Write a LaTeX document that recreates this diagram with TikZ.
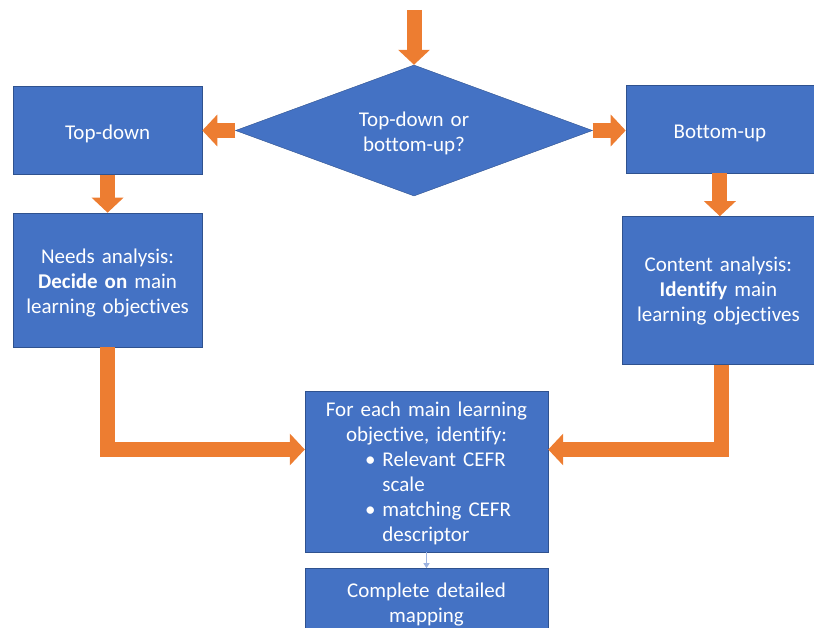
\documentclass[tikz,border=0pt]{standalone}
\usepackage{fontspec}
\setmainfont{Carlito}[Ligatures=NoCommon]
\usetikzlibrary{arrows.meta,positioning,shapes.geometric}
\definecolor{boxblue}{HTML}{4472C4}
\definecolor{edgeblue}{HTML}{2F528F}
\definecolor{pilorange}{HTML}{ED7D31}
\definecolor{thinblue}{HTML}{9DB3E0}
\tikzset{
    %Define height of the first text line
    boxstrut/.store in=\boxstrut,
    boxstrut=21.75pt,
    %Define style for boxes
    plain/.style={
           rectangle,
           fill=boxblue,
           draw=edgeblue, thin,
           text=white,
           inner sep=0pt,
           align=center,
           execute at begin node={\rule{0pt}{\boxstrut}},
           font=\fontsize{21}{25}\selectfont},
    %Define box size (width, height)
    boxsize/.style 2 args={
           minimum width=#1,
           text width=#1,
           minimum height=#2},
    %Define style for the question
    choice/.style={
           diamond,
           aspect=2.7,
           fill=boxblue,
           draw=edgeblue, thin,
           text=white,
           inner sep=0pt,
           align=center,
           text width=120pt,
           execute at begin node={\rule{0pt}{19.75pt}},
           minimum width=357pt,
           minimum height=131pt,
           font=\fontsize{21}{25}\selectfont},
    % Define block arrow style
    pil/.style={
           -{Triangle[width=31pt,length=15pt]},
           draw=pilorange,
           line width=15pt},
    % Define thin arrow style
    thinpil/.style={
           -{Triangle[width=6pt,length=5pt]},
           draw=thinblue,
           line width=1pt}
}

\begin{document}
\begin{tikzpicture}[x=1pt, y=1pt]
        \useasboundingbox (0,0) rectangle (814,-628);
        %nodes

        % question node
        \node[choice] at (414,-130.5)
        (question)
        {Top-down or\\ bottom-up?}
        ;

        % start of the flow
        \coordinate (start) at (414,-10);

        % top-down node
        \node[plain, boxsize={189pt}{88pt},
        left=33pt of question]
        (topdown)
        {Top-down}
        ;

        % bottom-up node
        \node[plain, boxsize={188pt}{88pt},
        right=33pt of question, yshift=1.5pt]
        (bottomup)
        {Bottom-up}
        ;

        % needs analysis node
        \node[plain, boxsize={189pt}{134pt},
        below=38pt of topdown]
        (needs)
        {Needs analysis:\\ \textbf{Decide on} main\\ learning objectives}
        ;

        % content analysis node
        \node[plain, boxsize={193pt}{148pt}, boxstrut=15.75pt,
        below=43pt of bottomup, xshift=-1.5pt]
        (content)
        {Content analysis:\\ \textbf{Identify} main\\ learning objectives}
        ;

        % CEFR node
        \node[plain, boxsize={243pt}{161pt}] at (426.5,-471.5)
        (cefr)
        {For each main learning\\ objective, identify:\\
        \makebox[243pt][l]{\hspace*{60pt}\begin{tabular}[t]{@{}l@{\hspace{7pt}}l@{}}
        \textbullet & Relevant CEFR\\
                    & scale\\
        \textbullet & matching CEFR\\
                    & descriptor
        \end{tabular}}}
        ;

        % mapping node
        \node[plain, boxsize={243pt}{66pt},
        below=16pt of cefr]
        (mapping)
        {Complete detailed\\ mapping}
        ;

        % start and question
        \draw[pil]
        (start) -- (question)
        ;

        % question and top-down
        \draw[pil]
        (question) -- (topdown)
        ;

        % question and bottom-up
        \draw[pil]
        (question.east) -- (bottomup.west |- question.east)
        ;

        % top-down and needs analysis
        \draw[pil]
        (topdown) -- (needs)
        ;

        % bottom-up and content analysis
        \draw[pil]
        (bottomup.south) -- (bottomup.south |- content.north)
        ;

        % needs analysis and CEFR
        \draw[pil]
        (needs.south) |- ([yshift=22pt]cefr.west)
        ;

        % content analysis and CEFR
        \draw[pil]
        ([xshift=3pt]content.south) |- ([yshift=22pt]cefr.east)
        ;

        % CEFR and mapping
        \draw[thinpil]
        (cefr) -- (mapping)
        ;

    \end{tikzpicture}
\end{document}
